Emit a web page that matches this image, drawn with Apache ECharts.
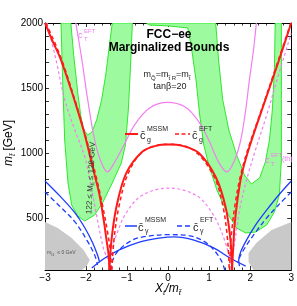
<!DOCTYPE html>
<html><head><meta charset="utf-8">
<script src="https://cdn.jsdelivr.net/npm/echarts@6/dist/echarts.min.js"></script>
<style>html,body{margin:0;padding:0;background:#fff}#c{width:297px;height:306px}</style>
</head><body><div id="c"></div>
<script>
// ---- tick labels ----
const xTicks = [-3, -2, -1, 0, 1, 2, 3];
const yTicks = [500, 1000, 1500, 2000];

// ---- regions: [X_t/m_stop, m_stop] ----
const greenLeft = [[-2.61,2000],[-2.57,1560],[-2.52,1100],[-2.44,770],[-2.35,600],[-2.20,515],[-2.03,477],[-1.79,523],[-1.60,615],[-1.36,770],[-1.14,923],[-1.04,1062],[-0.97,1330],[-0.92,1640],[-0.87,2000],
  [-1.36,2000],[-1.43,1830],[-1.52,1600],[-1.62,1410],[-1.74,1255],[-1.86,1160],[-1.96,1138],[-2.06,1180],[-2.13,1290],[-2.20,1460],[-2.30,1750],[-2.37,2000]];
const greenRight = [[-0.53,2000],[1.16,2000],[1.23,1715],[1.33,1410],[1.48,1177],[1.67,985],[1.86,831],[2.03,762],[2.23,808],[2.37,931],[2.47,1100],[2.54,1330],[2.59,1640],[2.61,2000],
  [2.76,2000],[2.76,1410],[2.76,946],[2.71,677],[2.59,546],[2.40,446],[2.13,392],[1.89,385],[1.67,423],[1.43,546],[1.19,715],[0.99,908],[0.87,1062],[0.77,1292],[0.68,1562],[0.56,1831],[0.48,1962],[0.02,1977],[-0.46,1985]];
const grayLeft = [[-3.0,469],[-2.69,423],[-2.35,346],[-2.06,254],[-1.91,177],[-1.98,131],[-2.10,100],[-3.0,100]];
const grayRight = [[3.0,469],[2.52,408],[2.15,308],[1.96,231],[1.96,162],[2.08,100],[3.0,100]];

// ---- c_g (red) ----
const cgMssmOuterL = [[-3.00,2000],[-2.83,1870],[-2.64,1740],[-2.44,1560],[-2.23,1355],[-2.06,1175],[-1.94,1025],[-1.79,830],[-1.67,675],[-1.57,485],[-1.50,330],[-1.45,215],[-1.43,100]];
const cgMssmOuterR = [[3.00,2000],[2.66,1675],[2.30,1345],[1.96,1025],[1.79,830],[1.69,640],[1.62,445],[1.59,290],[1.57,175],[1.56,100]];
const cgMssmArch = [[-1.43,100],[-1.38,330],[-1.26,585],[-1.02,845],[-0.63,1010],[-0.30,1055],[0.02,1065],[0.35,1055],[0.75,1000],[1.16,815],[1.40,585],[1.52,330],[1.56,100]];
const cgEftOuterL = [[-2.98,2000],[-2.62,1740],[-2.22,1355],[-1.92,1025],[-1.74,800],[-1.60,600],[-1.48,400],[-1.41,250],[-1.38,100]];
const cgEftOuterR = [[2.99,2000],[2.29,1345],[1.94,1025],[1.76,820],[1.64,620],[1.56,430],[1.52,280],[1.50,100]];
const cgEftArch = [[-1.37,100],[-1.32,330],[-1.20,585],[-0.97,845],[-0.60,1015],[0.00,1068],[0.60,1025],[1.10,830],[1.33,600],[1.45,330],[1.49,100]];

// ---- c_T (magenta) ----
const cTEft = [[-2.25,2000],[-2.10,1715],[-1.96,1410],[-1.79,1100],[-1.65,945],[-1.48,855],[-1.31,925],[-1.11,1040],[-0.82,1215],[-0.46,1345],[-0.02,1390],[0.41,1355],[0.75,1240],[0.99,1100],[1.23,930],[1.43,855],[1.62,945],[1.77,1100],[1.89,1330],[1.98,1560],[2.08,1790],[2.15,2000]];
const cTEftThL = [[-2.95,2000],[-2.73,1715],[-2.52,1410],[-2.27,1175],[-2.03,970],[-1.86,715],[-1.70,450],[-1.57,260],[-1.47,185]];
const cTEftThArch = [[-1.47,185],[-1.26,370],[-1.02,540],[-0.63,675],[0.02,730],[0.68,675],[1.07,540],[1.33,370],[1.50,200]];
const cTEftThR = [[1.50,200],[1.60,280],[1.74,560],[1.91,790],[2.13,1025],[2.40,1290],[2.69,1600],[3.00,1920]];

// ---- c_gamma (blue) ----
const cyMssmOuterL = [[-3.0,785],[-2.64,670],[-2.27,540],[-2.03,425],[-1.84,310],[-1.72,215],[-1.67,160]];
const cyEftOuterL = [[-3.0,700],[-2.64,590],[-2.27,470],[-1.98,330],[-1.79,215],[-1.72,140]];
const cyMssmArch = [[-1.86,115],[-1.55,190],[-1.19,255],[-0.70,315],[-0.22,345],[0.15,355],[0.63,330],[1.11,270],[1.52,190],[1.89,130]];
const cyEftArch = [[-1.43,100],[-1.26,230],[-0.87,330],[-0.50,360],[0.00,372],[0.50,365],[0.85,325],[1.10,260],[1.30,170],[1.38,100]];
const cyMssmOuterR = [[3.0,785],[2.69,675],[2.40,560],[2.13,445],[1.91,330],[1.77,240],[1.72,175],[1.74,130]];
const cyEftOuterR = [[3.0,700],[2.69,600],[2.40,500],[2.13,390],[1.91,290],[1.77,215],[1.69,155]];

const FF = "'Liberation Sans', Arial, Helvetica, sans-serif";
const RED = '#ff1a1a', BLUE = '#1f3dff', MAG = '#f27ef2', GFILL = '#9efa9e', GEDGE = '#2ee82e', GRAY = '#c9c9c9';

function poly(pts, fill, stroke, z) {
  return {type:'custom', coordinateSystem:'cartesian2d', data: pts, z, silent:true, clip:true,
    encode:{x:0, y:1},
    renderItem: (params, api) => params.dataIndex !== 0 ? null : ({
      type:'polygon', shape:{points: pts.map(p => api.coord(p))},
      style:{fill, stroke: stroke || null, lineWidth: stroke ? 1 : 0}
    })};
}
function line(pts, color, width, dash, z, sm) {
  return {type:'line', data: pts, showSymbol:false, symbol:'none', smooth: sm === undefined ? 0.35 : sm,
    lineStyle:{color, width, type: dash || 'solid'}, z, silent:true, clip:true};
}
const fmtX = v => xTicks.includes(v) ? (v < 0 ? '\u2212' + Math.abs(v) : String(v)) : '';
const fmtY = v => yTicks.includes(v) ? String(v) : '';

function T(x, y, text, size, color, o) {
  o = o || {};
  const st = {text, fontSize:size, fontFamily:FF, fontStyle:o.it?'italic':'normal', fontWeight:o.b?'bold':'normal',
    fill:color || '#000', textAlign:o.al || 'left', align:o.al || 'left', textVerticalAlign:'middle', verticalAlign:'middle'};
  if (o.lh) st.lineHeight = o.lh;
  if (o.rich) st.rich = o.rich;
  return {type:'text', x, y, rotation:o.rot || 0, z:100, silent:true, style:st};
}
const subRich = (sz, it, col) => ({fontSize:sz, lineHeight:sz, verticalAlign:'bottom', fontFamily:FF, fontStyle: it?'italic':'normal', fill: col});

const axisCommon = {type:'value', splitLine:{show:false},
  axisLine:{show:true, onZero:false, lineStyle:{color:'#000', width:1}},
  axisTick:{show:true, inside:true, length:4, lineStyle:{color:'#000', width:0.8}}};

const chart = echarts.init(document.getElementById('c'), null, {renderer:'canvas'});
chart.setOption({
  animation:false,
  backgroundColor:'#fff',
  grid:{left:45, right:4, top:23, bottom:36, containLabel:false},
  xAxis:[
    Object.assign({}, axisCommon, {min:-3, max:3, interval:1, position:'bottom',
      minorTick:{show:true, splitNumber:5, length:2.5, lineStyle:{color:'#000', width:0.8}},
      axisLabel:{show:true, margin:3, fontSize:10, color:'#000', fontFamily:FF, formatter:fmtX}}),
    Object.assign({}, axisCommon, {min:-3, max:3, interval:1, position:'top',
      minorTick:{show:true, splitNumber:5, length:2.5, lineStyle:{color:'#000', width:0.8}},
      axisLabel:{show:false}})
  ],
  yAxis:[
    Object.assign({}, axisCommon, {min:100, max:2000, interval:100, position:'left',
      axisLabel:{show:true, margin:2, fontSize:10, color:'#000', fontFamily:FF, formatter:fmtY}}),
    Object.assign({}, axisCommon, {min:100, max:2000, interval:100, position:'right', axisLabel:{show:false}})
  ],
  series:[
    poly(grayLeft, GRAY, null, 1),
    poly(grayRight, GRAY, null, 1),
    poly(greenLeft, GFILL, GEDGE, 2),
    poly(greenRight, GFILL, GEDGE, 2),
    line(cTEft, MAG, 1.2, null, 3),
    line(cTEftThL, MAG, 1.2, [3,2.5], 3),
    line(cTEftThArch, MAG, 1.2, [3,2.5], 3),
    line(cTEftThR, MAG, 1.2, [3,2.5], 3),
    line(cyMssmOuterL, BLUE, 1.3, null, 4),
    line(cyEftOuterL, BLUE, 1.3, [5,3], 4),
    line(cyMssmArch, BLUE, 1.3, null, 4),
    line(cyEftArch, BLUE, 1.3, [5,3], 4),
    line(cyMssmOuterR, BLUE, 1.3, null, 4),
    line(cyEftOuterR, BLUE, 1.3, [5,3], 4),
    line(cgMssmOuterL, RED, 2, null, 5),
    line(cgMssmOuterR, RED, 2, null, 5),
    line(cgMssmArch, RED, 2, null, 5),
    line(cgEftOuterL, RED, 1.5, [4,3], 5),
    line(cgEftOuterR, RED, 1.5, [4,3], 5),
    line(cgEftArch, RED, 1.5, [4,3], 5)
  ],
  graphic:{elements:[
    T(169,35,'FCC\u2212ee',12,'#000',{b:1, al:'center'}),
    T(169,48,'Marginalized Bounds',12,'#000',{b:1, al:'center'}),
    T(167,75,'{m|m}{s|Q\u0303}{m|=m}{s|t\u0303 R}{m|=m}{s|t\u0303}',9,'#222',{al:'center', lh:13,
      rich:{m:{fontSize:9, lineHeight:13, fontFamily:FF, fill:'#222'}, s:subRich(6,false,'#222')}}),
    T(170,87,'tan\u03b2=20',9,'#222',{al:'center'}),
    // c_g legend
    {type:'line', z:100, silent:true, shape:{x1:125,y1:134,x2:138,y2:134}, style:{stroke:RED, lineWidth:2}},
    T(140,136,'c\u0304',11,'#222'), T(147,129,'MSSM',7,'#222'), T(147,140,'g',7,'#222'),
    {type:'line', z:100, silent:true, shape:{x1:175,y1:134,x2:190,y2:134}, style:{stroke:RED, lineWidth:1.5, lineDash:[4,2.5]}},
    T(192,136,'c\u0304',11,'#222'), T(199,129,'EFT',7,'#222'), T(199,140,'g',7,'#222'),
    // c_gamma legend
    {type:'line', z:100, silent:true, shape:{x1:125,y1:226,x2:137,y2:226}, style:{stroke:BLUE, lineWidth:1.5}},
    T(138,228,'c\u0304',11,'#222'), T(145,220,'MSSM',7,'#222'), T(145,231,'\u03b3',7,'#222'),
    {type:'line', z:100, silent:true, shape:{x1:177,y1:226,x2:192,y2:226}, style:{stroke:BLUE, lineWidth:1.5, lineDash:[5,3]}},
    T(193,228,'c\u0304',11,'#222'), T(200,220,'EFT',7,'#222'), T(200,231,'\u03b3',7,'#222'),
    // c_T labels
    T(78,36,'c\u0304',9,MAG), T(84,31,'EFT',6,MAG), T(84,39,'T',6,MAG),
    T(265,161,'c\u0304',9,MAG), T(271,155,'EFT',6,MAG), T(271,164,'T',6,MAG), T(282,159,'(th)',7,MAG),
    // Higgs band label
    T(91,178,'122 \u2264 M{s|h} \u2264 128 GeV',8,'#333',{al:'center', rot:1.517, lh:11, rich:{s:subRich(5.5,false,'#333')}}),
    // gray region label
    T(47,253,'m{s|t\u03031}  \u2264 0 GeV',5,'#555',{lh:7, rich:{s:subRich(4,false,'#555')}}),
    // axis names
    T(9,143,'{i|m}{s|t\u0303} [GeV]',12,'#000',{al:'center', rot:Math.PI/2, lh:15,
      rich:{i:{fontSize:12, lineHeight:15, fontStyle:'italic', fontFamily:FF}, s:subRich(8,true,'#000')}}),
    T(168,289,'{i|X}{s|t}{i|/m}{s|t\u0303}',12,'#000',{al:'center', lh:15,
      rich:{i:{fontSize:12, lineHeight:15, fontStyle:'italic', fontFamily:FF}, s:subRich(8,true,'#000')}})
  ]}
});
</script>
</body></html>
